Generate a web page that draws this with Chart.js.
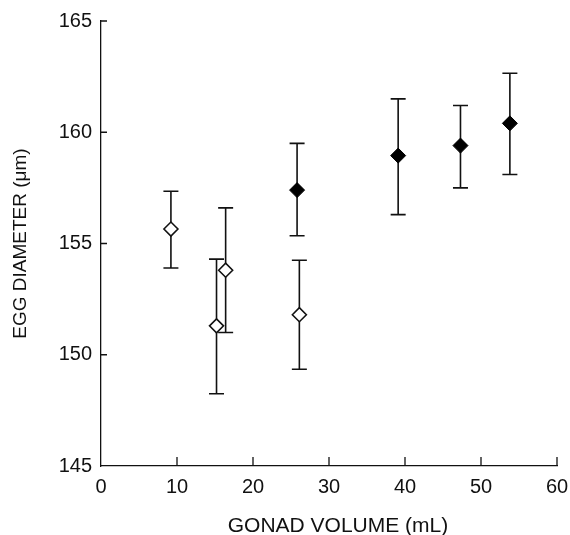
<!DOCTYPE html>
<html>
<head>
<meta charset="utf-8">
<script src="https://cdn.jsdelivr.net/npm/chart.js@4"></script>
<style>
  html, body { margin: 0; padding: 0; background: #fff; }
  #wrap { width: 570px; height: 535px; }
</style>
</head>
<body>
<div id="wrap"><canvas id="eggChart"></canvas></div>
<script>
// values
const openX = [9.2, 15.2, 16.4, 26.1];
const openY = [155.65, 151.3, 153.8, 151.8];
const openLow = [153.9, 148.25, 151.0, 149.35];
const openHigh = [157.35, 154.3, 156.6, 154.25];

const filledX = [25.8, 39.1, 47.3, 53.8];
const filledY = [157.4, 158.95, 159.4, 160.4];
const filledLow = [155.35, 156.3, 157.5, 158.1];
const filledHigh = [159.5, 161.5, 161.2, 162.65];

const xTicks = [0, 10, 20, 30, 40, 50, 60];
const yTicks = [145, 150, 155, 160, 165];

const xTitle = 'GONAD VOLUME (mL)';
const yTitle = 'EGG DIAMETER (\u03bcm)';

const FONT = '"Liberation Sans", Arial, Helvetica, sans-serif';

function toPoints(xs, ys, lows, highs) {
  return xs.map((x, i) => ({ x: x, y: ys[i], low: lows[i], high: highs[i] }));
}

// error bars, drawn under the markers
const errorBars = {
  id: 'errorBars',
  beforeDatasetsDraw(chart) {
    const ctx = chart.ctx;
    const xs = chart.scales.x;
    const ys = chart.scales.y;
    ctx.save();
    ctx.strokeStyle = '#111';
    ctx.lineWidth = 1.6;
    chart.data.datasets.forEach(ds => {
      ds.data.forEach(p => {
        const px = xs.getPixelForValue(p.x);
        const top = ys.getPixelForValue(p.high);
        const bot = ys.getPixelForValue(p.low);
        ctx.beginPath();
        ctx.moveTo(px, top);
        ctx.lineTo(px, bot);
        ctx.moveTo(px - 7.5, top);
        ctx.lineTo(px + 7.5, top);
        ctx.moveTo(px - 7.5, bot);
        ctx.lineTo(px + 7.5, bot);
        ctx.stroke();
      });
    });
    ctx.restore();
  }
};

// tick marks pointing into the plot + the x title (sits a bit right of centre in the original)
const innerTicks = {
  id: 'innerTicks',
  afterDraw(chart) {
    const ctx = chart.ctx;
    const area = chart.chartArea;
    const xs = chart.scales.x;
    const ys = chart.scales.y;
    ctx.save();
    ctx.strokeStyle = '#111';
    ctx.lineWidth = 1.3;
    ctx.beginPath();
    xTicks.slice(1).forEach(v => {
      const px = xs.getPixelForValue(v);
      ctx.moveTo(px, area.bottom);
      ctx.lineTo(px, area.bottom - 9);
    });
    yTicks.slice(1).forEach(v => {
      const py = ys.getPixelForValue(v);
      ctx.moveTo(area.left, py);
      ctx.lineTo(area.left + 6, py);
    });
    ctx.stroke();

    ctx.fillStyle = '#111';
    ctx.font = '21px ' + FONT;
    ctx.textAlign = 'center';
    ctx.textBaseline = 'alphabetic';
    ctx.fillText(xTitle, (area.left + area.right) / 2 + 9, 532);
    ctx.restore();
  }
};

new Chart(document.getElementById('eggChart'), {
  type: 'scatter',
  data: {
    datasets: [
      {
        label: 'open',
        data: toPoints(openX, openY, openLow, openHigh),
        pointStyle: 'rectRot',
        pointRadius: 7,
        pointBorderWidth: 1.6,
        pointBorderColor: '#111',
        pointBackgroundColor: '#fff'
      },
      {
        label: 'filled',
        data: toPoints(filledX, filledY, filledLow, filledHigh),
        pointStyle: 'rectRot',
        pointRadius: 7.5,
        pointBorderWidth: 1,
        pointBorderColor: '#000',
        pointBackgroundColor: '#000'
      }
    ]
  },
  options: {
    responsive: true,
    maintainAspectRatio: false,
    animation: false,
    layout: { padding: { left: 0, right: 13, top: 19, bottom: 0 } },
    plugins: {
      legend: { display: false },
      tooltip: { enabled: false }
    },
    scales: {
      x: {
        type: 'linear',
        min: 0,
        max: 60,
        afterBuildTicks: scale => { scale.ticks = xTicks.map(v => ({ value: v })); },
        afterFit: scale => { scale.height = 69; scale.paddingRight = 0; scale.paddingLeft = 0; },
        grid: { display: false, drawTicks: false },
        border: { display: true, color: '#111', width: 1.3 },
        ticks: { color: '#111', padding: 9, maxRotation: 0, font: { family: FONT, size: 20 } },
        title: { display: false }
      },
      y: {
        type: 'linear',
        min: 145,
        max: 165,
        afterBuildTicks: scale => { scale.ticks = yTicks.map(v => ({ value: v })); },
        afterFit: scale => { scale.width = 101; },
        grid: { display: false, drawTicks: false },
        border: { display: true, color: '#111', width: 1.3 },
        ticks: { color: '#111', padding: 9, font: { family: FONT, size: 20 } },
        title: {
          display: true,
          text: yTitle,
          color: '#111',
          padding: { top: 9, bottom: 0 },
          font: { family: FONT, size: 19 }
        }
      }
    }
  },
  plugins: [errorBars, innerTicks]
});
</script>
</body>
</html>
